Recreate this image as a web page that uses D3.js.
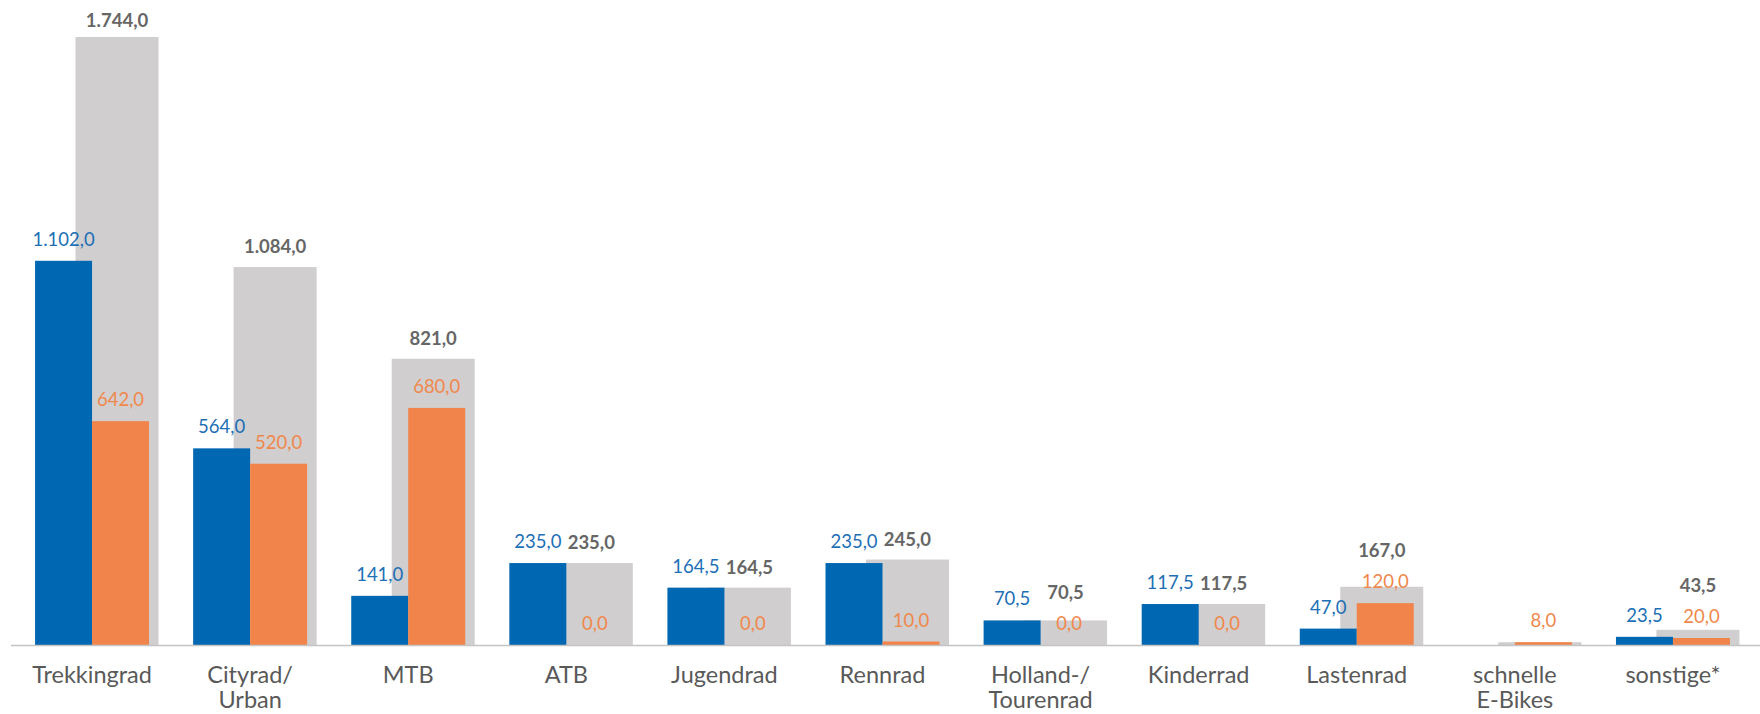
<!DOCTYPE html>
<html>
<head>
<meta charset="utf-8">
<script src="https://cdn.jsdelivr.net/npm/d3@7"></script>
<style>
  body { margin: 0; background: #fff; }
  svg { display: block; font-family: Lato, "Open Sans", sans-serif; }
</style>
</head>
<body>
<div id="chart"></div>
<script>
var categories = ["Trekkingrad", "Cityrad/|Urban", "MTB", "ATB", "Jugendrad", "Rennrad",
                  "Holland-/|Tourenrad", "Kinderrad", "Lastenrad", "schnelle|E-Bikes", "sonstige*"];
var blueValues   = [1102, 564, 141, 235, 164.5, 235, 70.5, 117.5, 47, null, 23.5];
var orangeValues = [642, 520, 680, 0, 0, 10, 0, 0, 120, 8, 20];
var totalValues  = [1744, 1084, 821, 235, 164.5, 245, 70.5, 117.5, 167, 8, 43.5];

var W = 1760, H = 714,
    baseY = 645;

var svg = d3.select("#chart")
  .append("svg")
  .attr("width", W)
  .attr("height", H);

var de = d3.formatLocale({decimal: ",", thousands: ".", grouping: [3], currency: ["", "€"]});
var fmt = de.format(",.1f");

// scales
var x0 = d3.scaleBand()
  .domain(categories)
  .range([13, 1752])
  .paddingInner(0);

var x1 = d3.scaleBand()
  .domain(["blue", "orange"])
  .range([0, x0.bandwidth()])
  .paddingOuter(0.387);

var y = d3.scaleLinear()
  .domain([0, 1850])
  .range([baseY, 0]);

var bw = x0.bandwidth(),
    grayW = bw * 0.525,
    grayOff = bw * 0.158;

var rows = categories.map(function(c, i) {
  return {cat: c, blue: blueValues[i], orange: orangeValues[i], total: totalValues[i]};
});

function center(d) { return x0(d.cat) + bw / 2; }

// gray total bars (behind)
svg.append("g").selectAll("rect")
  .data(rows)
  .enter().append("rect")
  .attr("x", function(d) { return center(d) + grayOff - grayW / 2; })
  .attr("y", function(d) { return y(d.total); })
  .attr("width", grayW)
  .attr("height", function(d) { return baseY - y(d.total); })
  .attr("fill", "#d0cecf");

// blue bars
svg.append("g").selectAll("rect")
  .data(rows.filter(function(d) { return d.blue != null; }))
  .enter().append("rect")
  .attr("x", function(d) { return x0(d.cat) + x1("blue"); })
  .attr("y", function(d) { return y(d.blue); })
  .attr("width", x1.bandwidth())
  .attr("height", function(d) { return baseY - y(d.blue); })
  .attr("fill", "#0067b2");

// orange bars
svg.append("g").selectAll("rect")
  .data(rows)
  .enter().append("rect")
  .attr("x", function(d) { return x0(d.cat) + x1("orange"); })
  .attr("y", function(d) { return y(d.orange); })
  .attr("width", x1.bandwidth())
  .attr("height", function(d) { return baseY - y(d.orange); })
  .attr("fill", "#f0844b");

// baseline
svg.append("line")
  .attr("x1", 11).attr("x2", W)
  .attr("y1", baseY + 0.5).attr("y2", baseY + 0.5)
  .attr("stroke", "#c4c4c4")
  .attr("stroke-width", 1.5);

// value labels
var lab = svg.append("g")
  .attr("font-size", "18.5px")
  .attr("text-anchor", "middle");

lab.selectAll(".lb")
  .data(rows.filter(function(d) { return d.blue != null; }))
  .enter().append("text")
  .attr("class", "lb")
  .attr("x", function(d) { return x0(d.cat) + x1("blue") + x1.bandwidth() / 2; })
  .attr("y", function(d) { return y(d.blue) - 15; })
  .attr("fill", "#1d6fb6")
  .text(function(d) { return fmt(d.blue); });

lab.selectAll(".lo")
  .data(rows)
  .enter().append("text")
  .attr("class", "lo")
  .attr("x", function(d) { return x0(d.cat) + x1("orange") + x1.bandwidth() / 2; })
  .attr("y", function(d) { return y(d.orange) - 15; })
  .attr("fill", "#f0884c")
  .text(function(d) { return fmt(d.orange); });

lab.selectAll(".lg")
  .data(rows.filter(function(d) { return d.blue != null; }))
  .enter().append("text")
  .attr("class", "lg")
  .attr("x", function(d) { return center(d) + grayOff; })
  .attr("y", function(d) {
    var yg = Math.max(y(d.total) - 14, 27),
        yo = y(d.orange) - 15;
    // push up when it would sit on the orange label
    if (yg > yo - 31) { yg = yo - 31; }
    return yg;
  })
  .attr("fill", "#666666")
  .attr("font-weight", "bold")
  .text(function(d) { return fmt(d.total); });

// category labels
var cl = svg.append("g")
  .attr("font-size", "23.5px")
  .attr("fill", "#595959")
  .attr("text-anchor", "middle")
  .selectAll("text")
  .data(rows)
  .enter().append("text")
  .attr("x", function(d) { return center(d); })
  .attr("y", 683);

cl.selectAll("tspan")
  .data(function(d) { return d.cat.split("|"); })
  .enter().append("tspan")
  .attr("x", function() { return d3.select(this.parentNode).attr("x"); })
  .attr("dy", function(t, i) { return i ? 25 : 0; })
  .text(function(t) { return t; });
</script>
</body>
</html>
